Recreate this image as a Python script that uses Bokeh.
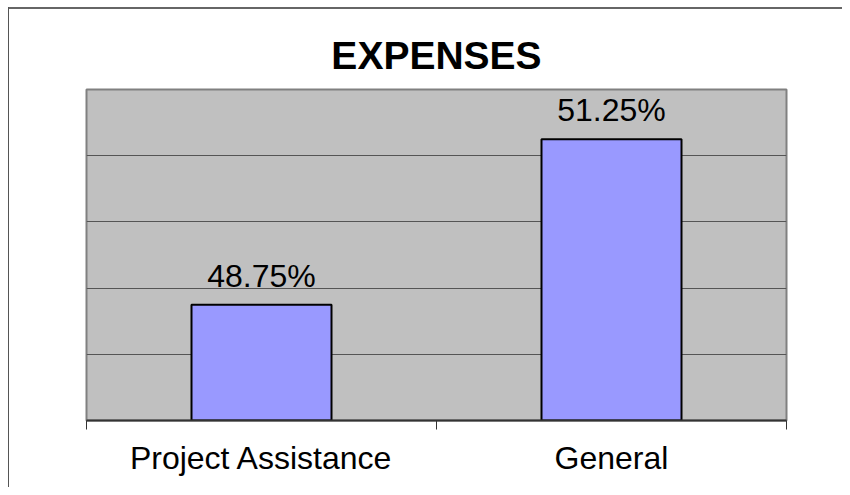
from bokeh.plotting import figure
from bokeh.models import FixedTicker, Range1d, ColumnDataSource
from bokeh.core.properties import value
from bokeh.embed import file_html
from bokeh.resources import INLINE

categories = ["Project Assistance", "General"]
values = [48.75, 51.25]
value_labels = ["48.75%", "51.25%"]
y_min, y_max = 47, 52
grid_ticks = [47, 48, 49, 50, 51, 52]

xs = [i + 0.5 for i in range(len(categories))]
src = ColumnDataSource(dict(x=xs, top=values, lab=value_labels))

p = figure(width=842, height=487, output_backend="svg", toolbar_location=None,
           x_range=Range1d(0, len(categories)), y_range=Range1d(y_min, y_max),
           min_border_left=86, min_border_right=56, min_border_top=89, min_border_bottom=67,
           title="EXPENSES")
p.styles = {"background": "linear-gradient(#555555,#555555) 8px 7px / 1px 100% no-repeat, "
                          "linear-gradient(#666666,#666666) 8px 7px / 100% 2px no-repeat, #ffffff"}

p.title.align = "center"
p.title.text_font = "Liberation Sans"
p.title.text_font_size = "39px"
p.title.text_font_style = "bold"
p.title.text_color = "black"
p.title.standoff = 25

p.background_fill_color = "#C0C0C0"
p.border_fill_color = None
p.outline_line_color = "#808080"
p.outline_line_width = 2

p.vbar(x="x", top="top", bottom=y_min, width=0.4, source=src,
       fill_color="#9999FF", line_color="black", line_width=2)
p.text(x="x", y="top", text="lab", source=src, text_align="center",
       text_baseline="alphabetic", y_offset=-29, text_font=value("Liberation Sans"),
       text_font_size="32px", text_color="black")

p.yaxis.visible = False
p.ygrid.ticker = FixedTicker(ticks=grid_ticks)
p.ygrid.grid_line_color = "#555555"
p.ygrid.grid_line_width = 1
p.xgrid.visible = False

ax = p.xaxis[0]
ax.ticker = FixedTicker(ticks=xs, minor_ticks=[0, 1, 2])
ax.major_label_overrides = {x: c for x, c in zip(xs, categories)}
ax.major_tick_line_color = None
ax.minor_tick_in = 0
ax.minor_tick_out = 9
ax.minor_tick_line_color = "#333333"
ax.axis_line_color = "#333333"
ax.axis_line_width = 2
ax.major_label_text_font = "Liberation Sans"
ax.major_label_text_font_size = "32px"
ax.major_label_text_color = "black"
ax.major_label_standoff = 10

open("out.html", "w").write(file_html(p, INLINE))
